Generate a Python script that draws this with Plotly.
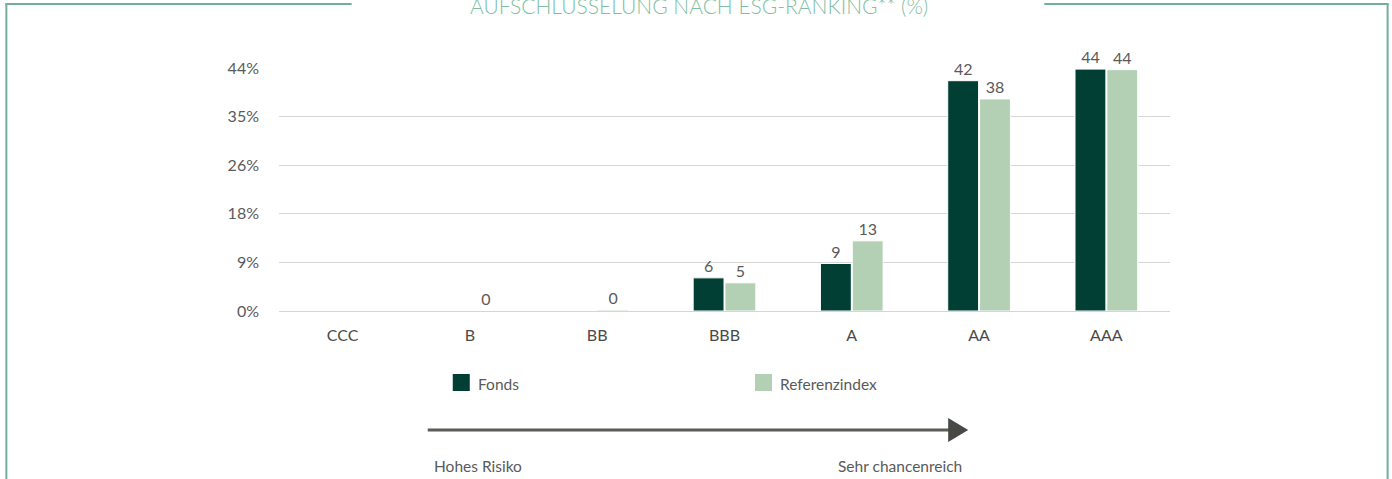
import plotly.graph_objects as go

categories = ["CCC", "B", "BB", "BBB", "A", "AA", "AAA"]
fonds = [None, None, None, 6.0, 8.6, 41.7, 43.8]
referenz = [None, 0.0, 0.2, 5.1, 12.7, 38.4, 43.7]
series_names = ["Fonds", "Referenzindex"]
series_colors = ["#013e33", "#b3d0b5"]
tick_vals = [0, 8.8, 17.6, 26.4, 35.2, 44]
tick_text = ["0%", "9%", "18%", "26%", "35%", "44%"]
title_text = "AUFSCHLÜSSELUNG NACH ESG-RANKING** (%)"
arrow_left_label = "Hohes Risiko"
arrow_right_label = "Sehr chancenreich"

W, H = 1392, 479
L, R, T, B = 279.4, 222.4, 68, 168
PW, PH = W - L - R, H - T - B


def px(x):
    return (x - L) / PW


def py(y):
    return (H - B - y) / PH


FONT = "Lato, 'Open Sans', sans-serif"
BORDER = "#72ae98"
TXT = "#5a5a5a"

fig = go.Figure()
for name, vals, col in zip(series_names, [fonds, referenz], series_colors):
    fig.add_trace(go.Bar(
        x=categories, y=vals, name=name,
        marker=dict(color=col, line=dict(color="white", width=1)),
        texttemplate="%{y:.0f}", textposition="outside",
        textfont=dict(family=FONT, size=16, color=TXT),
        cliponaxis=False, showlegend=False,
    ))

shapes = []
annotations = []
# frame
shapes.append(dict(type="line", xref="paper", yref="paper", x0=px(7), x1=px(7), y0=py(4), y1=py(480), line=dict(color=BORDER, width=2)))
shapes.append(dict(type="line", xref="paper", yref="paper", x0=px(1387), x1=px(1387), y0=py(4), y1=py(480), line=dict(color=BORDER, width=2)))
shapes.append(dict(type="line", xref="paper", yref="paper", x0=px(6), x1=px(352), y0=py(4), y1=py(4), line=dict(color=BORDER, width=2)))
shapes.append(dict(type="line", xref="paper", yref="paper", x0=px(1044), x1=px(1388), y0=py(4), y1=py(4), line=dict(color=BORDER, width=2)))

# title
annotations.append(dict(text=title_text, xref="paper", yref="paper", x=px(699), y=py(20), xanchor="center", yanchor="bottom", showarrow=False,
                        font=dict(family=FONT, size=21, color="#80c0a2", weight=300)))

# legend
leg_x = [453, 755]
for name, col, lx in zip(series_names, series_colors, leg_x):
    shapes.append(dict(type="rect", xref="paper", yref="paper", x0=px(lx), x1=px(lx + 17), y0=py(374), y1=py(391), fillcolor=col, line=dict(width=0)))
    annotations.append(dict(text=name, xref="paper", yref="paper", x=px(lx + 23), y=py(384), xanchor="left", yanchor="middle", showarrow=False,
                            font=dict(family=FONT, size=15.5, color=TXT)))

# arrow
shapes.append(dict(type="line", xref="paper", yref="paper", x0=px(428), x1=px(950), y0=py(430), y1=py(430), line=dict(color="#5a5c57", width=3)))
shapes.append(dict(type="path", xref="paper", yref="paper",
                   path=f"M {px(948)},{py(418)} L {px(968)},{py(430)} L {px(948)},{py(442)} Z",
                   fillcolor="#474a44", line=dict(width=0)))
annotations.append(dict(text=arrow_left_label, xref="paper", yref="paper", x=px(432), y=py(466), xanchor="left", yanchor="middle", showarrow=False,
                        font=dict(family=FONT, size=15.5, color=TXT)))
annotations.append(dict(text=arrow_right_label, xref="paper", yref="paper", x=px(964), y=py(466), xanchor="right", yanchor="middle", showarrow=False,
                        font=dict(family=FONT, size=15.5, color=TXT)))

fig.update_layout(
    width=W, height=H,
    margin=dict(l=L, r=R, t=T, b=B, pad=0),
    paper_bgcolor="white", plot_bgcolor="white",
    barmode="group", bargap=0.5, bargroupgap=0.03,
    showlegend=False,
    shapes=shapes, annotations=annotations,
    xaxis=dict(type="category", showgrid=False, showline=False, zeroline=False, ticks="",
               tickfont=dict(family=FONT, size=16, color="#4a4a4a"), ticklabelstandoff=13, fixedrange=True),
    yaxis=dict(range=[0, 44], tickvals=tick_vals, ticktext=tick_text, showgrid=True, gridcolor="#d6d6d6", gridwidth=1,
               zeroline=True, zerolinecolor="#d6d6d6", zerolinewidth=1, showline=False, ticks="",
               tickfont=dict(family=FONT, size=16, color=TXT), ticklabelstandoff=19, fixedrange=True),
)

fig.write_html("out.html", config={"displayModeBar": False},
               post_script="document.body.style.margin='0';document.body.style.overflow='hidden';")
